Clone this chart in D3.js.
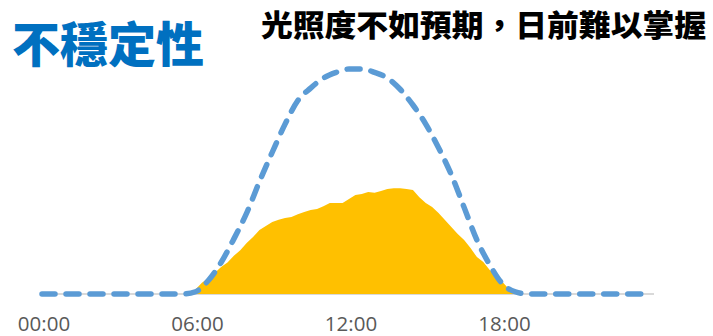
<!DOCTYPE html>
<html>
<style>
body { margin: 0; background: #fff; }
svg { display: block; }
</style>
<body>
<script src="https://d3js.org/d3.v7.min.js"></script>
<script>
var width = 713;
var height = 336;

var titleText = "不穩定性";
var subtitleText = "光照度不如預期，日前難以掌握";

// x ticks
var tickLabels = ["00:00", "06:00", "12:00", "18:00"];

// expected (clear sky) curve, dashed
var clearTimes = ["00:00", "05:30", "06:00", "06:30", "07:00", "07:30", "08:00", "08:30",
  "09:00", "09:30", "10:00", "10:30", "11:00", "11:30", "12:00", "12:30", "13:00",
  "13:30", "14:00", "14:30", "15:00", "15:30", "16:00", "16:30", "17:00", "17:30",
  "18:00", "18:30", "19:00", "23:30"];
var clearValues = [0, 0, 1, 6, 14, 24.5, 36, 50, 63, 75.5, 86, 91.5, 96, 98.5, 100, 100, 98.5,
  96, 91, 84, 75.5, 65, 53, 38.5, 24, 13, 4.5, 1, 0, 0];

// actual irradiance, filled area
var actualTimes = ["05:45", "06:00", "06:15", "06:30", "06:45", "07:00", "07:15", "07:30",
  "07:45", "08:00", "08:15", "08:30", "08:45", "09:00", "09:15", "09:30", "09:45",
  "10:00", "10:15", "10:30", "10:45", "11:00", "11:15", "11:30", "11:45", "12:00",
  "12:15", "12:30", "12:45", "13:00", "13:15", "13:30", "13:45", "14:00", "14:15",
  "14:30", "14:45", "15:00", "15:15", "15:30", "15:45", "16:00", "16:15", "16:30",
  "16:45", "17:00", "17:15", "17:30", "17:45", "18:00", "18:15", "18:30"];
var actualValues = [0, 2, 5, 7, 9.3, 12, 14, 17, 19.5, 22.7, 25.3, 28.4, 30.2, 32, 33, 33.8, 34.2,
  35.5, 36.4, 37.3, 37.8, 39, 40.4, 40.4, 40.4, 42.2, 44, 44.4, 45.3, 45, 45.8, 46.7,
  47, 47, 46.7, 46.2, 43, 40.4, 38.7, 36, 32.9, 29.8, 26.7, 24, 20.4, 16.4, 14.2,
  10.7, 8.4, 5.3, 2.2, 0];

function toHours(t) {
  var p = t.split(":");
  return +p[0] + p[1] / 60;
}

var svg = d3.select("body")
  .append("svg")
  .attr("width", width)
  .attr("height", height);

var x = d3.scaleLinear().domain([0, 24]).range([42, 656]);
var y = d3.scaleLinear().domain([0, 100]).range([294, 69]);

// titles
svg.append("text")
  .attr("x", 12)
  .attr("y", 62)
  .attr("font-family", "Noto Sans CJK TC")
  .attr("font-weight", 900)
  .attr("font-size", 48)
  .attr("fill", "#0070C0")
  .text(titleText);

svg.append("text")
  .attr("x", 261)
  .attr("y", 36)
  .attr("font-family", "Noto Sans CJK TC")
  .attr("font-weight", 900)
  .attr("font-size", 30)
  .attr("textLength", 445)
  .attr("lengthAdjust", "spacingAndGlyphs")
  .attr("fill", "#000")
  .text(subtitleText);

// baseline
svg.append("line")
  .attr("x1", x(0) - 2)
  .attr("x2", x(24) - 2)
  .attr("y1", y(0))
  .attr("y2", y(0))
  .attr("stroke", "#D9D9D9")
  .attr("stroke-width", 2);

// actual area
var actual = actualTimes.map(function(t, i) { return [toHours(t), actualValues[i]]; });
var area = d3.area()
  .x(function(d) { return x(d[0]); })
  .y0(y(0))
  .y1(function(d) { return y(d[1]); });

svg.append("path")
  .datum(actual)
  .attr("fill", "#FFC000")
  .attr("d", area);

// clear sky dashed line
var clear = clearTimes.map(function(t, i) { return [toHours(t), clearValues[i]]; });
var line = d3.line()
  .x(function(d) { return x(d[0]); })
  .y(function(d) { return y(d[1]); })
  .curve(d3.curveMonotoneX);

svg.append("path")
  .datum(clear)
  .attr("fill", "none")
  .attr("stroke", "#5B9BD5")
  .attr("stroke-width", 5.5)
  .attr("stroke-linecap", "round")
  .attr("stroke-dasharray", "13,11")
  .attr("d", line);

// x axis labels
var xAxis = d3.axisBottom(x)
  .tickValues(tickLabels.map(toHours))
  .tickFormat(function(d, i) { return tickLabels[i]; })
  .tickSize(0)
  .tickPadding(0);

var gx = svg.append("g")
  .attr("transform", "translate(1.5,316)")
  .call(xAxis);
gx.select(".domain").remove();
gx.selectAll("text")
  .attr("dy", "0.71em")
  .attr("font-family", "Open Sans")
  .attr("font-size", 20.5)
  .attr("fill", "#595959");
</script>
</body>
</html>
